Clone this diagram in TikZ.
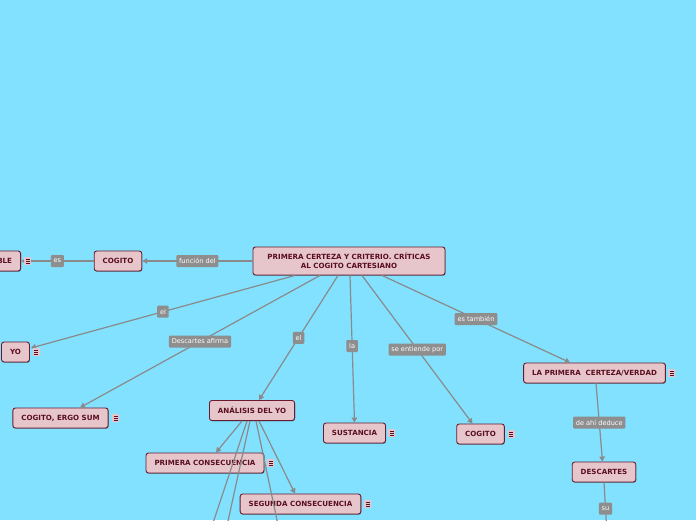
\documentclass[tikz,border=0pt]{standalone}
\usepackage{fontspec}
\setmainfont{DejaVu Sans}
\usetikzlibrary{arrows.meta,shadows}
\definecolor{bg}{HTML}{82E1FF}
\definecolor{nodefill}{HTML}{E6C5CB}
\definecolor{nodeborder}{HTML}{6A1A2C}
\definecolor{nodetext}{HTML}{5A0E1E}
\definecolor{lblfill}{HTML}{8E8E8E}
\definecolor{edgecol}{HTML}{8A8A8A}
\tikzset{
  box/.style={draw=nodeborder, line width=0.9pt, fill=nodefill, rounded corners=2.5pt,
    minimum height=20pt, inner xsep=8.5pt, inner ysep=0pt,
    font=\fontsize{7.1}{8.5}\selectfont\bfseries, text=nodetext,
    drop shadow={shadow xshift=0.5pt, shadow yshift=-0.8pt, opacity=0.35, fill=black}},
  lbl/.style={fill=lblfill, text=white, font=\fontsize{6.6}{7.5}\selectfont,
    inner xsep=2.8pt, inner ysep=0pt, minimum height=12pt, rounded corners=1pt},
  edge/.style={draw=edgecol, line width=1.2pt, -{Triangle[length=5pt,width=5.5pt]}},
  menu/.style={fill=nodefill, minimum width=7pt, minimum height=8.5pt, inner sep=0pt,
    path picture={
      \draw[nodetext, line width=0.7pt]
        ([xshift=1.5pt,yshift=2pt]path picture bounding box.west) -- ([xshift=-1.5pt,yshift=2pt]path picture bounding box.east)
        ([xshift=1.5pt]path picture bounding box.west) -- ([xshift=-1.5pt]path picture bounding box.east)
        ([xshift=1.5pt,yshift=-2pt]path picture bounding box.west) -- ([xshift=-1.5pt,yshift=-2pt]path picture bounding box.east);
    }}
}
\begin{document}
\begin{tikzpicture}[x=1pt,y=-1pt]
\fill[bg] (0,0) rectangle (696,520);
\useasboundingbox (0,0) rectangle (696,520);

% nodes
\node[box, minimum width=192pt, minimum height=28pt, align=center] (main) at (349,261)
  {PRIMERA CERTEZA Y CRITERIO. CRÍTICAS\\AL COGITO CARTESIANO};
\node[box] (cogL) at (118,261) {COGITO};
\node[box, anchor=east] (ble) at (21,261) {INDUBITABLE};
\node[box] (yo) at (15.5,352) {YO};
\node[box] (ergo) at (60.5,418) {COGITO, ERGO SUM};
\node[box] (an) at (252,410.5) {ANÁLISIS DEL YO};
\node[box] (prim) at (205,463) {PRIMERA CONSECUENCIA};
\node[box] (seg) at (300.5,504) {SEGUNDA CONSECUENCIA};
\node[box] (sus) at (354.5,433) {SUSTANCIA};
\node[box] (cogR) at (480.5,434) {COGITO};
\node[box] (lap) at (594.5,373) {LA PRIMERA\ \ CERTEZA/VERDAD};
\node[box] (desc) at (604,472) {DESCARTES};

\coordinate (offA) at (203,553);
\coordinate (offB) at (221,553);
\coordinate (offC) at (284,553);
\coordinate (offD) at (607,535);

% edges
\draw[edge] (main.west) -- node[lbl]{función del} (cogL.east);
\draw[edge] (cogL.west) -- node[lbl]{es} (ble.east);
\draw[edge] ([xshift=-54pt]main.south) -- node[lbl]{el} ([yshift=4pt,xshift=1pt]yo.east);
\draw[edge] ([xshift=-29pt]main.south) -- node[lbl]{Descartes afirma} ([xshift=19.5pt]ergo.north);
\draw[edge] ([xshift=-11pt]main.south) -- node[lbl]{el} ([xshift=7pt]an.north);
\draw[edge] ([xshift=1pt]main.south) -- node[lbl, pos=0.48]{la} (sus.north);
\draw[edge] ([xshift=13pt]main.south) -- node[lbl]{se entiende por} ([xshift=-8pt]cogR.north);
\draw[edge] ([xshift=33pt]main.south) -- node[lbl]{es también} ([xshift=-24.5pt]lap.north);
\draw[edge] ([xshift=1.5pt]lap.south) -- node[lbl]{de ahí deduce} ([xshift=-1.5pt]desc.north);
\draw[edge] (desc.south) -- node[lbl]{su} (offD);
\draw[edge] ([xshift=-10pt]an.south) -- ([xshift=11pt]prim.north);
\draw[edge] ([xshift=7pt]an.south) -- ([xshift=-5.5pt]seg.north);
\draw[edge] ([xshift=-5pt]an.south) -- (offA);
\draw[edge] ([xshift=-2pt]an.south) -- (offB);
\draw[edge] ([xshift=4pt]an.south) -- (offC);

% menu icons
\node[menu] (m1) at ([xshift=6.5pt]ble.east) {};
\node[menu] (m2) at ([xshift=6.5pt]yo.east) {};
\node[menu] (m3) at ([xshift=7pt]ergo.east) {};
\node[menu] (m4) at ([xshift=6.5pt]prim.east) {};
\node[menu] (m5) at ([xshift=6.5pt]seg.east) {};
\node[menu] (m6) at ([xshift=6pt]sus.east) {};
\node[menu] (m7) at ([xshift=6.5pt]cogR.east) {};
\node[menu] (m8) at ([xshift=6pt]lap.east) {};
\end{tikzpicture}
\end{document}
